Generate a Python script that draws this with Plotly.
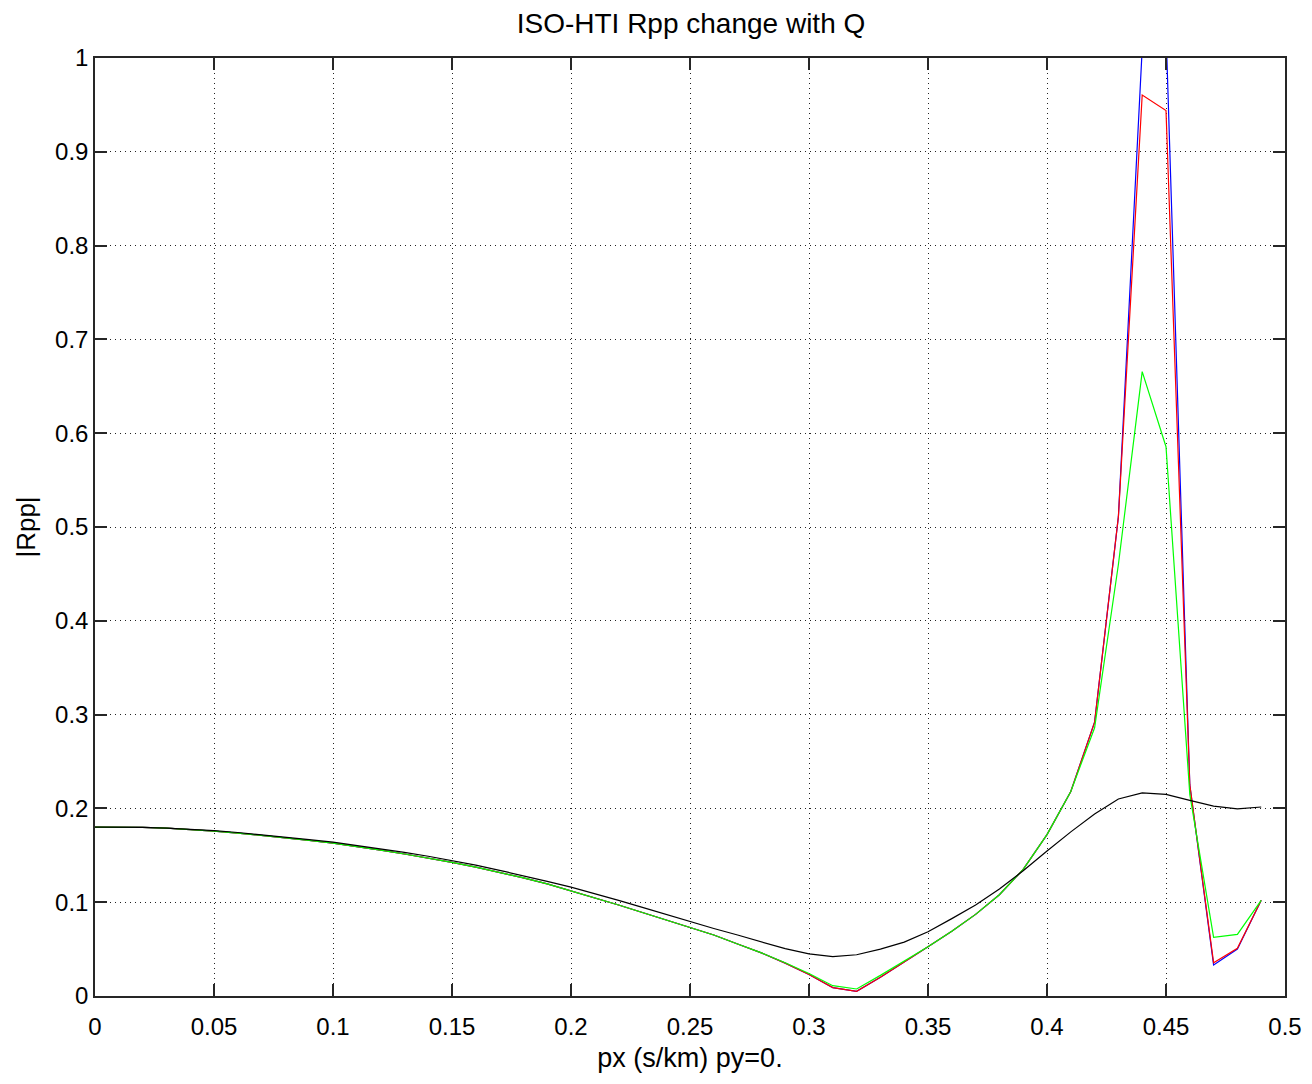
import plotly.graph_objects as go

px = [0.00, 0.01, 0.02, 0.03, 0.04, 0.05, 0.06, 0.07, 0.08, 0.09,
      0.10, 0.11, 0.12, 0.13, 0.14, 0.15, 0.16, 0.17, 0.18, 0.19,
      0.20, 0.21, 0.22, 0.23, 0.24, 0.25, 0.26, 0.27, 0.28, 0.29,
      0.30, 0.31, 0.32, 0.33, 0.34, 0.35, 0.36, 0.37, 0.38, 0.39,
      0.40, 0.41, 0.42, 0.43, 0.44, 0.45, 0.46, 0.47, 0.48, 0.49]

rpp_black = [0.1800, 0.1800, 0.1797, 0.1790, 0.1778, 0.1762, 0.1743, 0.1720, 0.1695, 0.1668,
             0.1640, 0.1606, 0.1570, 0.1532, 0.1490, 0.1445, 0.1395, 0.1340, 0.1283, 0.1222,
             0.1160, 0.1093, 0.1020, 0.0945, 0.0870, 0.0790, 0.0720, 0.0650, 0.0575, 0.0505,
             0.0450, 0.0420, 0.0440, 0.0500, 0.0575, 0.0685, 0.0825, 0.0970, 0.1140, 0.1335,
             0.1545, 0.1750, 0.1940, 0.2100, 0.2165, 0.2150, 0.2085, 0.2025, 0.1995, 0.2015]

rpp_green = [0.1800, 0.1800, 0.1797, 0.1789, 0.1776, 0.1758, 0.1737, 0.1713, 0.1687, 0.1660,
             0.1630, 0.1595, 0.1556, 0.1514, 0.1470, 0.1425, 0.1373, 0.1318, 0.1260, 0.1195,
             0.1120, 0.1050, 0.0970, 0.0890, 0.0810, 0.0730, 0.0650, 0.0555, 0.0460, 0.0355,
             0.0240, 0.0110, 0.0075, 0.0220, 0.0370, 0.0526, 0.0690, 0.0870, 0.1080, 0.1350,
             0.1720, 0.2180, 0.2860, 0.4600, 0.6656, 0.5856, 0.2150, 0.0625, 0.0657, 0.1020]

rpp_red = [0.1800, 0.1800, 0.1797, 0.1789, 0.1776, 0.1758, 0.1737, 0.1713, 0.1687, 0.1660,
           0.1630, 0.1595, 0.1556, 0.1514, 0.1470, 0.1425, 0.1373, 0.1318, 0.1260, 0.1195,
           0.1120, 0.1050, 0.0970, 0.0890, 0.0810, 0.0730, 0.0650, 0.0555, 0.0460, 0.0350,
           0.0230, 0.0090, 0.0050, 0.0200, 0.0360, 0.0526, 0.0690, 0.0870, 0.1080, 0.1350,
           0.1720, 0.2180, 0.2920, 0.5110, 0.9606, 0.9440, 0.2250, 0.0355, 0.0508, 0.1020]

rpp_blue = [0.1800, 0.1800, 0.1797, 0.1789, 0.1776, 0.1758, 0.1737, 0.1713, 0.1687, 0.1660,
            0.1630, 0.1595, 0.1556, 0.1514, 0.1470, 0.1425, 0.1373, 0.1318, 0.1260, 0.1195,
            0.1120, 0.1050, 0.0970, 0.0890, 0.0810, 0.0730, 0.0650, 0.0555, 0.0460, 0.0350,
            0.0230, 0.0090, 0.0050, 0.0200, 0.0360, 0.0526, 0.0690, 0.0870, 0.1080, 0.1350,
            0.1720, 0.2180, 0.2920, 0.5110, 1.0100, 1.0300, 0.2250, 0.0330, 0.0500, 0.1020]

x_ticks = [0, 0.05, 0.1, 0.15, 0.2, 0.25, 0.3, 0.35, 0.4, 0.45, 0.5]
x_tick_labels = ["0", "0.05", "0.1", "0.15", "0.2", "0.25", "0.3", "0.35", "0.4", "0.45", "0.5"]
y_ticks = [0, 0.1, 0.2, 0.3, 0.4, 0.5, 0.6, 0.7, 0.8, 0.9, 1]
y_tick_labels = ["0", "0.1", "0.2", "0.3", "0.4", "0.5", "0.6", "0.7", "0.8", "0.9", "1"]

FONT = "Liberation Sans, Arial, sans-serif"

fig = go.Figure()
for ys, col in [(rpp_blue, "#0000ff"), (rpp_red, "#ff0000"),
                (rpp_green, "#00ff00"), (rpp_black, "#000000")]:
    fig.add_trace(go.Scatter(x=px, y=ys, mode="lines",
                             line=dict(color=col, width=1.2),
                             showlegend=False, hoverinfo="skip"))

axis_common = dict(
    showline=True, linecolor="#262626", linewidth=1.5, mirror="allticks",
    ticks="inside", ticklen=12, tickwidth=1.5, tickcolor="#262626",
    showgrid=True, gridcolor="#222222", gridwidth=1, griddash="1px,4px",
    zeroline=False, tickfont=dict(family=FONT, size=24, color="#000000"),
)

fig.update_xaxes(range=[0, 0.5], tickvals=x_ticks, ticktext=x_tick_labels,
                 ticklabelstandoff=8,
                 title=dict(text="px (s/km) py=0.", font=dict(family=FONT, size=27, color="#000000"),
                            standoff=10),
                 **axis_common)
fig.update_yaxes(range=[0, 1], tickvals=y_ticks, ticktext=y_tick_labels,
                 ticklabelstandoff=0,
                 title=dict(text="|Rpp|", font=dict(family=FONT, size=26, color="#000000"),
                            standoff=12),
                 **axis_common)

fig.update_layout(
    width=1312, height=1084,
    margin=dict(l=87, r=35, t=50, b=96, autoexpand=False),
    paper_bgcolor="#ffffff", plot_bgcolor="#ffffff",
    title=dict(text="ISO-HTI Rpp change with Q", x=683 / 1312, xanchor="center",
               yref="container", y=1 - 15 / 1084, yanchor="middle",
               font=dict(family=FONT, size=28, color="#000000")),
)

fig.write_html("out.html")
